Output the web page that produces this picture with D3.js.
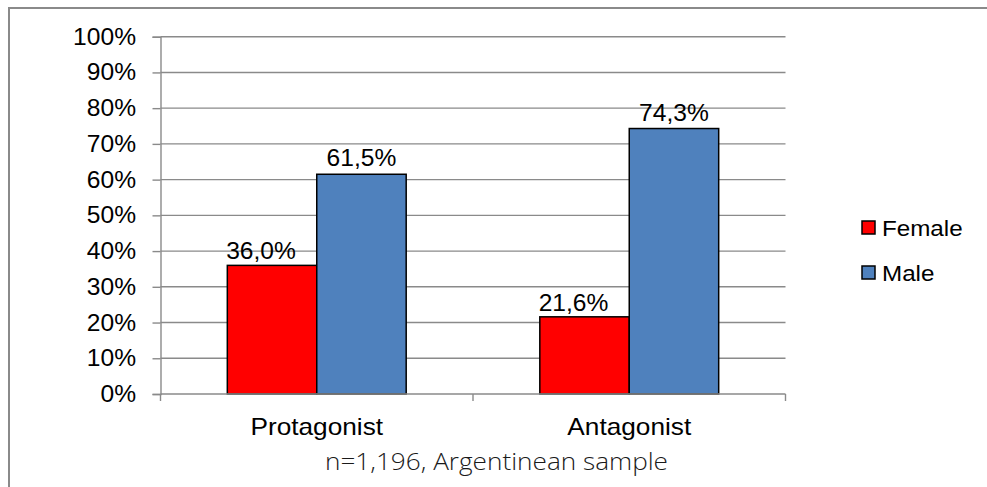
<!DOCTYPE html>
<html><head><meta charset="utf-8">
<script src="https://cdn.jsdelivr.net/npm/d3@7/dist/d3.min.js"></script>
<style>
body{margin:0;background:#fff;}
svg{display:block;}
</style></head>
<body>
<svg id="chart" width="987" height="487"></svg>
<script>
const categories = ["Protagonist", "Antagonist"];
const seriesNames = ["Female", "Male"];
const female = [36.0, 21.6];
const male = [61.5, 74.3];
const yTicks = [0, 10, 20, 30, 40, 50, 60, 70, 80, 90, 100];
const subtitle = "n=1,196, Argentinean sample";
const colors = ["#FF0000", "#4F81BD"];

const svg = d3.select("#chart");
const font = "'Liberation Sans', Arial, sans-serif";

// outer frame
svg.append("rect").attr("x", 9).attr("y", 8).attr("width", 1000).attr("height", 600)
  .attr("fill", "none").attr("stroke", "#8a8a8a").attr("stroke-width", 2);

const x0 = 160.5, x1 = 785.5, yTop = 36.7, yBot = 394;
const y = d3.scaleLinear().domain([0, 100]).range([yBot, yTop]);
const xb = d3.scaleBand().domain(categories).range([x0, x1]).paddingInner(0.4276).paddingOuter(0.2138);
const xs = d3.scaleBand().domain(seriesNames).range([0, xb.bandwidth()]);

function stext(g, x, yy, str, size, anchor, sx) {
  return g.append("g").attr("transform", `translate(${x},${yy}) scale(${sx},1)`)
    .append("text").attr("x", 0).attr("y", 0)
    .attr("font-family", font).attr("font-size", size)
    .attr("text-anchor", anchor || "start").attr("fill", "#000").text(str);
}

// gridlines
const grid = svg.append("g");
grid.selectAll("line").data(yTicks.filter(d => d > 0)).join("line")
  .attr("x1", x0).attr("x2", x1).attr("y1", d => y(d)).attr("y2", d => y(d))
  .attr("stroke", "#8a8a8a").attr("stroke-width", 1.4);

// y axis
const yAxis = d3.axisLeft(y).tickValues(yTicks).tickSize(8).tickFormat(d => d + "%");
const ga = svg.append("g").attr("transform", `translate(${x0},0)`).call(yAxis);
ga.select(".domain").attr("stroke", "#8a8a8a").attr("stroke-width", 1.4);
ga.selectAll(".tick line").attr("stroke", "#8a8a8a").attr("stroke-width", 1.4);
ga.selectAll(".tick text").remove();
yTicks.forEach(t => stext(svg, 136, y(t) + 8, t + "%", 23, "end", 1.07));

// bars
const groups = svg.append("g").selectAll("g").data(categories).join("g")
  .attr("transform", d => `translate(${xb(d)},0)`);
const vals = [female, male];
groups.selectAll("rect").data((d, i) => seriesNames.map((s, j) => ({s, v: vals[j][i]}))).join("rect")
  .attr("x", d => xs(d.s)).attr("width", xs.bandwidth())
  .attr("y", d => y(d.v)).attr("height", d => y(0) - y(d.v))
  .attr("fill", (d, j) => colors[j]).attr("stroke", "#000").attr("stroke-width", 1.5);

// x axis
svg.append("line").attr("x1", x0).attr("x2", x1).attr("y1", yBot).attr("y2", yBot)
  .attr("stroke", "#8a8a8a").attr("stroke-width", 1.4);
const tickXs = [x0, (x0 + x1) / 2, x1];
svg.selectAll(".xt").data(tickXs).join("line").attr("class", "xt")
  .attr("x1", d => d).attr("x2", d => d).attr("y1", yBot).attr("y2", yBot + 7)
  .attr("stroke", "#8a8a8a").attr("stroke-width", 1.4);
categories.forEach(c => stext(svg, xb(c) + xb.bandwidth() / 2, 435, c, 23, "middle", 1.14));

// data labels
const fmt = v => v.toFixed(1).replace(".", ",") + "%";
categories.forEach((c, i) => {
  stext(svg, xb(c) + xs("Female") + xs.bandwidth() / 2 - 11, y(female[i]) - 6, fmt(female[i]), 23, "middle", 1.07);
  stext(svg, xb(c) + xs("Male") + xs.bandwidth() / 2, y(male[i]) - 8, fmt(male[i]), 23, "middle", 1.07);
});

// legend
seriesNames.forEach((s, i) => {
  const ly = 221 + i * 45;
  svg.append("rect").attr("x", 862).attr("y", ly).attr("width", 13).attr("height", 13)
    .attr("fill", colors[i]).attr("stroke", "#000").attr("stroke-width", 1.5);
  stext(svg, 882, ly + 15, s, 22, "start", 1.1);
});

// subtitle
svg.append("text").attr("x", 496.5).attr("y", 470).attr("text-anchor", "middle")
  .attr("font-family", "'Open Sans', sans-serif").attr("font-weight", 300).attr("font-size", 24)
  .attr("textLength", 343).attr("lengthAdjust", "spacingAndGlyphs").attr("fill", "#1a1a1a").text(subtitle);
</script>
</body></html>
